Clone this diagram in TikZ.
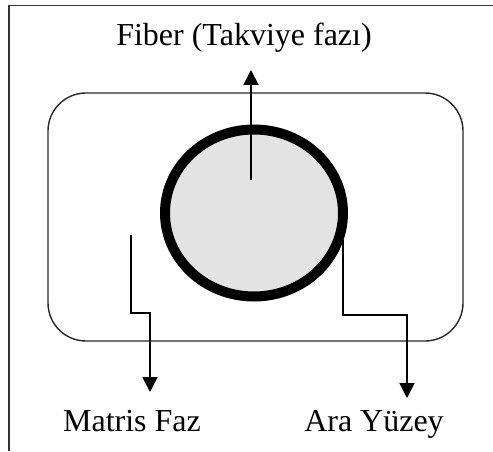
\documentclass[tikz,border=0pt]{standalone}
\usepackage{fontspec}
\setmainfont{Liberation Serif}
\usetikzlibrary{arrows.meta,shapes.geometric}
\begin{document}
\begin{tikzpicture}[x=1pt,y=1pt,
  lbl/.style={anchor=base,inner sep=0pt,font=\fontsize{32}{38}\selectfont},
  pointer/.style={line width=1.8pt,-{Triangle[width=15pt,length=15pt]}},
  leader/.style={line width=1.8pt}]
\useasboundingbox (0,0) rectangle (493,451);
% open frame: left and top sides only
\draw[line width=1.6pt,black!80] (9,0) -- (9,445.5) -- (493,445.5);
% matrix region
\draw[line width=1.4pt,black!85,rounded corners=38pt] (48,110) rectangle (463,358);
% fibre cross-section with its interface ring
\node[ellipse,draw,line width=10pt,fill=black!11,inner sep=0pt,
      minimum width=178pt,minimum height=167pt] (fiber) at (254,238) {};
% labels
\node[lbl] (lfib) at (244,405.3) {Fiber (Takviye fazı)};
\node[lbl] (lmat) at (132,19.3) {Matris Faz};
\node[lbl] (lara) at (374,19.3) {Ara Yüzey};
% leader anchor points
\coordinate (fs) at (251,271);
\coordinate (ft) at (251,381);
\coordinate (ms) at (131,216);
\coordinate (mt) at (150,59);
\coordinate (as) at (343,211);
\coordinate (at) at (407,53);
% connectors
\draw[pointer] (fs) -- (ft);
\draw[pointer] (ms) -- (131,138) -- (150,138) -- (mt);
\draw[pointer] (as) -- (343,136) -- (407,136) -- (at);
\end{tikzpicture}
\end{document}
